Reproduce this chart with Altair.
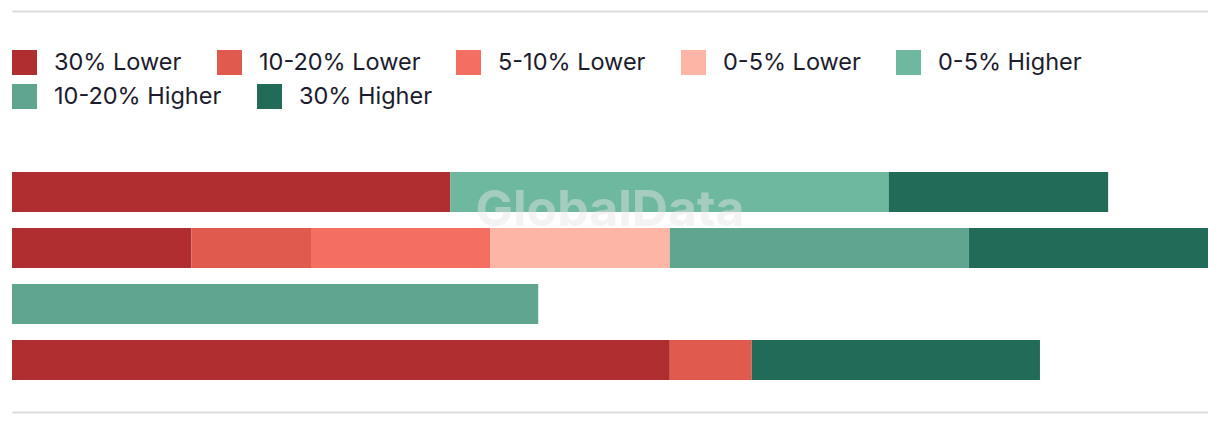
import altair as alt
import pandas as pd

rows = ["Row 1", "Row 2", "Row 3", "Row 4"]
categories = ["30% Lower", "10-20% Lower", "5-10% Lower", "0-5% Lower",
              "0-5% Higher", "10-20% Higher", "30% Higher"]
colors = ["#b02e2f", "#e05a4e", "#f46e61", "#fdb5a6",
          "#6fb8a0", "#60a58f", "#216b58"]

row1 = [7.33, 0, 0, 0, 7.33, 0, 3.67]
row2 = [3, 2, 3, 3, 0, 5, 4]
row3 = [0, 0, 0, 0, 0, 8.8, 0]
row4 = [11.0, 1.37, 0, 0, 0, 0, 4.82]

records = []
for r, vals in zip(rows, [row1, row2, row3, row4]):
    for i, (c, v) in enumerate(zip(categories, vals)):
        if v > 0:
            records.append({"row": r, "category": c, "value": v, "idx": i})
df = pd.DataFrame(records)

axis_style = dict(domain=True, domainColor="#dcdcdc", domainWidth=2,
                  ticks=False, labels=False, grid=False, title=None)

x_scale = alt.Scale(domain=[0, 20], nice=False, zero=True)
y_enc = alt.Y("row:N", sort=rows,
              scale=alt.Scale(range=[153, 377], paddingInner=16 / 56, paddingOuter=8 / 56),
              axis=None)

legend_style = dict(title=None, orient="none", legendX=0,
                    direction="horizontal", columnPadding=35,
                    symbolType="square", symbolSize=625,
                    symbolStrokeWidth=0, symbolOpacity=1,
                    labelFont="Inter", labelFontSize=23.5,
                    labelColor="#1c1b2e", labelOffset=17,
                    labelLimit=400)

base = alt.Chart(df).transform_stack(
    stack="value", groupby=["row"], sort=[alt.SortField("idx", order="ascending")],
    as_=["x0", "x1"], offset="zero"
)

bars_a = base.transform_filter("datum.idx < 5").mark_bar(stroke=None).encode(
    x=alt.X("x0:Q", scale=x_scale, axis=alt.Axis(orient="bottom", **axis_style)),
    x2="x1:Q",
    y=y_enc,
    color=alt.Color("category:N",
                    scale=alt.Scale(domain=categories[:5], range=colors[:5]),
                    legend=alt.Legend(legendY=39, columns=5, **legend_style)),
)

bars_b = base.transform_filter("datum.idx >= 5").mark_bar(stroke=None).encode(
    x=alt.X("x0:Q", scale=x_scale, axis=None),
    x2="x1:Q",
    y=y_enc,
    color=alt.Color("category:N",
                    scale=alt.Scale(domain=categories[5:], range=colors[5:]),
                    legend=alt.Legend(legendY=73, columns=2, **legend_style)),
)

watermark = alt.Chart(pd.DataFrame({"t": ["GlobalData"]})).mark_text(
    font="Inter", fontSize=50, fontWeight="bold", color="#e6e6e6",
    opacity=0.45, baseline="middle", align="center"
).encode(
    x=alt.XDatum(10, axis=alt.Axis(orient="top", **axis_style)),
    y=alt.value(200),
    text="t:N",
)

chart = alt.layer(bars_a, bars_b, watermark).resolve_scale(
    color="independent"
).resolve_axis(x="independent").properties(
    width=1196, height=401,
    padding={"left": 4, "top": 3, "right": 0, "bottom": 4},
    background="white",
).configure_view(stroke=None)

chart.save("out.html", embed_options={"renderer": "svg", "actions": False})
